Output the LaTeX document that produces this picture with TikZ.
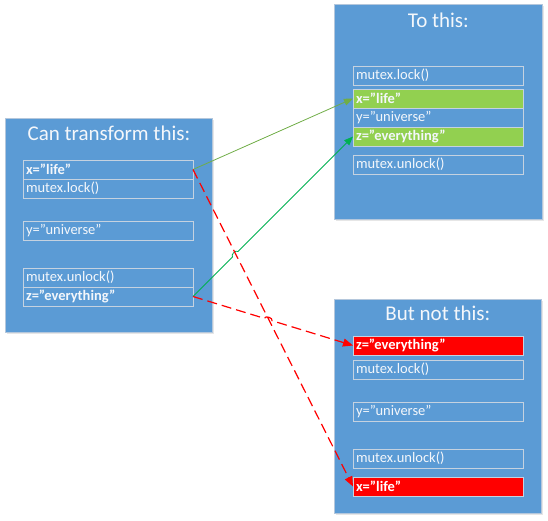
\documentclass[tikz,border=0pt]{standalone}
\usepackage{fontspec}
\setmainfont{Carlito}
\usetikzlibrary{positioning,calc,arrows.meta,shadows}

\definecolor{panelblue}{HTML}{5B9BD5}
\definecolor{panelline}{HTML}{B4C7DC}
\definecolor{rowline}{HTML}{C5D2E0}
\definecolor{paletext}{HTML}{F4F7FB}
\definecolor{okgreen}{HTML}{92D050}
\definecolor{badred}{HTML}{FF0000}
\definecolor{arrowgreen}{HTML}{70AD47}
\definecolor{arrowteal}{HTML}{00B050}

\begin{document}
\begin{tikzpicture}[x=1pt,y=-1pt]
    \tikzset{panel/.style={
        draw=panelline, fill=panelblue, anchor=north west, line width=0.8pt,
        minimum width=207pt, minimum height=214pt, inner sep=0pt,
        drop shadow={opacity=0.2, shadow xshift=1.5pt, shadow yshift=-1.5pt}
      },
      paneltitle/.style={text=paletext, font=\fontsize{21}{24}\selectfont, inner sep=0pt},
      row/.style={draw=rowline, fill=panelblue, anchor=north west, line width=0.8pt,
        minimum height=19pt, text width=164pt, inner xsep=3pt, inner ysep=0pt, outer sep=0pt,
        align=left, text=paletext, font=\fontsize{14.5}{17}\selectfont
      },
      goodrow/.style={row, fill=okgreen, font=\fontsize{14.5}{17}\selectfont\bfseries},
      badrow/.style={row, fill=badred, text=white, font=\fontsize{14.5}{17}\selectfont\bfseries},
      moved/.style={-{Triangle[length=9pt,width=7pt]}, line width=0.8pt},
      wrong/.style={-{Triangle[length=10pt,width=8pt]}, draw=badred, line width=1.2pt,
        dash pattern=on 10pt off 5pt
      }
    }

    \useasboundingbox (0,0) rectangle (548,521);

    % the three panels
    \node[panel] (src) at (5,118) {};
    \node[panel, minimum width=208pt, minimum height=215pt] (good) at (334,4) {};
    \node[panel] (bad) at (334,299) {};

    \node[paneltitle] at ([yshift=-15pt]src.north) {Can transform this:};
    \node[paneltitle] at ([yshift=-16pt]good.north) {To this:};
    \node[paneltitle] at ([yshift=-14pt]bad.north) {But not this:};

    % original order
    \node[row] (sx) at (23,160) {\textbf{x=”life”}};
    \node[row, below=0pt of sx] (slock) {mutex.lock()};
    \node[row, below=23pt of slock] (sy) {y=”universe”};
    \node[row, below=28pt of sy] (sunlock) {mutex.unlock()};
    \node[row, below=0pt of sunlock] (sz) {\textbf{z=”everything”}};

    % allowed reordering
    \node[row] (glock) at (353,66) {mutex.lock()};
    \node[goodrow, below=4pt of glock] (gx) {x=”life”};
    \node[row, below=0pt of gx] (gy) {y=”universe”};
    \node[goodrow, below=0pt of gy] (gz) {z=”everything”};
    \node[row, below=9pt of gz] (gunlock) {mutex.unlock()};

    % forbidden reordering
    \node[badrow] (bz) at (353,336) {z=”everything”};
    \node[row, below=5pt of bz] (block) {mutex.lock()};
    \node[row, below=23pt of block] (by) {y=”universe”};
    \node[row, below=28pt of by] (bunlock) {mutex.unlock()};
    \node[badrow, below=9pt of bunlock] (bx) {x=”life”};

    % hops where lines cross
    \path (sz.east) -- (gz.west) coordinate[pos=0.247] (hopa) coordinate[pos=0.281] (hopb);
    \path (sz.east) -- (bz.west) coordinate[pos=0.446] (hopc) coordinate[pos=0.494] (hopd);

    \draw[moved, draw=arrowgreen] (sx.east) -- (gx.west);
    \draw[moved, draw=arrowteal] (sz.east) -- (hopa) to[bend left=90] (hopb) -- (gz.west);

    \draw[wrong] (sx.east) -- (bx.west);
    \draw[wrong] (sz.east) -- (hopc) to[bend left=90] (hopd) -- (bz.west);
  \end{tikzpicture}
\end{document}
